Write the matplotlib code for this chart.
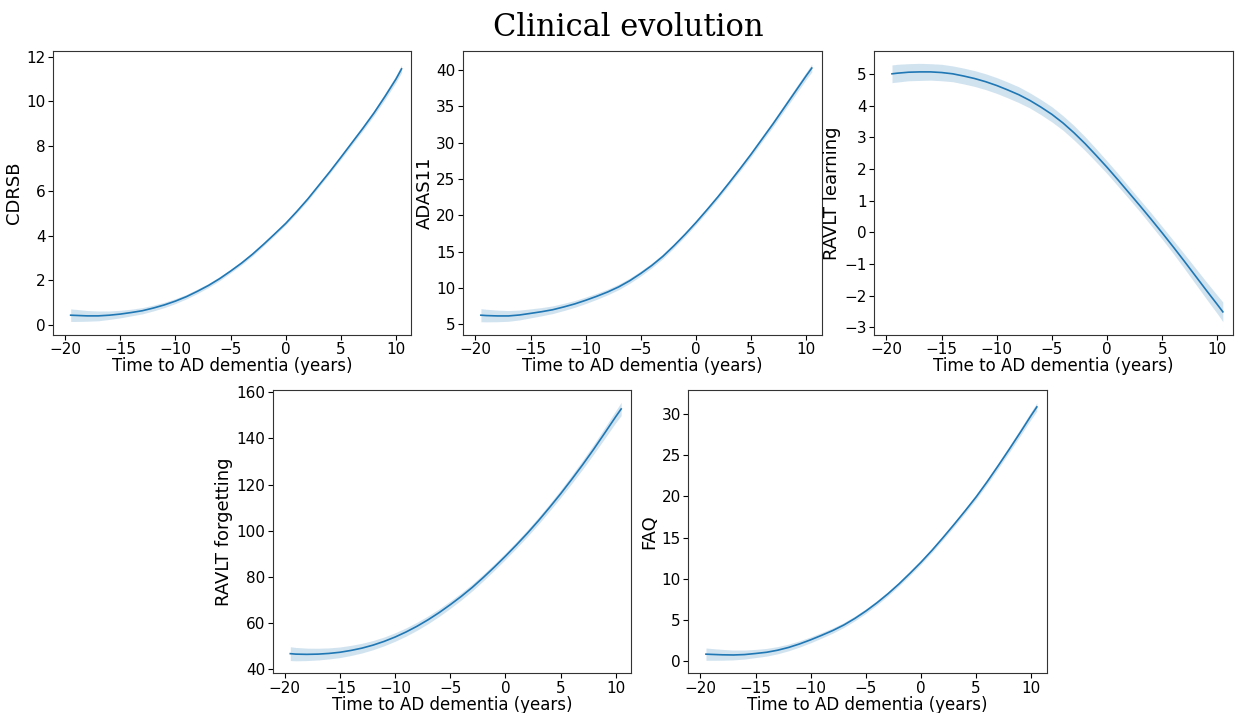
import numpy as np
import matplotlib
matplotlib.use('Agg')
from matplotlib import pyplot as plt

# years relative to AD dementia onset
years = [-19.5, -19, -18, -17, -16, -15, -14, -13, -12, -11,
         -10, -9, -8, -7, -6, -5, -4, -3, -2, -1,
         0, 1, 2, 3, 4, 5, 6, 7, 8, 9,
         10, 10.5]

cdrsb = [0.45, 0.44, 0.42, 0.42, 0.45, 0.5, 0.57, 0.65, 0.77, 0.91,
         1.08, 1.28, 1.52, 1.78, 2.08, 2.42, 2.78, 3.18, 3.62, 4.08,
         4.55, 5.08, 5.64, 6.25, 6.86, 7.5, 8.15, 8.8, 9.48, 10.22,
         11.0, 11.45]
cdrsb_ci = [0.28, 0.27, 0.24, 0.22, 0.19, 0.17, 0.15, 0.14, 0.13, 0.12,
            0.11, 0.10, 0.10, 0.09, 0.09, 0.08, 0.08, 0.08, 0.07, 0.07,
            0.07, 0.07, 0.08, 0.08, 0.08, 0.09, 0.10, 0.11, 0.12, 0.14,
            0.15, 0.17]

adas11 = [6.25, 6.2, 6.15, 6.15, 6.28, 6.5, 6.73, 7.0, 7.38, 7.8,
          8.3, 8.85, 9.45, 10.15, 11.0, 12.0, 13.1, 14.35, 15.8, 17.35,
          19.0, 20.75, 22.55, 24.45, 26.4, 28.4, 30.5, 32.6, 34.8, 37.0,
          39.2, 40.25]
adas11_ci = [0.9, 0.87, 0.8, 0.74, 0.68, 0.62, 0.57, 0.53, 0.5, 0.47,
             0.45, 0.42, 0.4, 0.38, 0.36, 0.35, 0.33, 0.32, 0.31, 0.3,
             0.3, 0.3, 0.3, 0.31, 0.33, 0.35, 0.37, 0.4, 0.43, 0.47,
             0.5, 0.55]

learning = [5.0, 5.02, 5.05, 5.06, 5.06, 5.04, 5.0, 4.93, 4.85, 4.75,
            4.63, 4.49, 4.34, 4.16, 3.95, 3.72, 3.45, 3.14, 2.8, 2.43,
            2.05, 1.65, 1.24, 0.83, 0.41, -0.02, -0.46, -0.91, -1.37, -1.83,
            -2.28, -2.51]
learning_ci = [0.28, 0.28, 0.27, 0.27, 0.26, 0.26, 0.25, 0.25, 0.25, 0.25,
               0.25, 0.25, 0.25, 0.24, 0.24, 0.24, 0.23, 0.23, 0.22, 0.21,
               0.2, 0.2, 0.19, 0.19, 0.2, 0.2, 0.21, 0.23, 0.25, 0.27,
               0.29, 0.31]

forgetting = [46.8, 46.6, 46.5, 46.6, 46.9, 47.4, 48.2, 49.2, 50.5, 52.1,
              54.0, 56.2, 58.7, 61.5, 64.6, 68.0, 71.6, 75.5, 79.8, 84.3,
              89.0, 93.9, 99.0, 104.4, 110.1, 116.0, 122.2, 128.6, 135.3, 142.3,
              149.4, 152.8]
forgetting_ci = [3.0, 2.9, 2.7, 2.55, 2.4, 2.3, 2.2, 2.1, 2.0, 1.9,
                 1.85, 1.8, 1.75, 1.7, 1.65, 1.6, 1.55, 1.5, 1.45, 1.4,
                 1.4, 1.4, 1.45, 1.5, 1.55, 1.65, 1.8, 1.95, 2.1, 2.35,
                 2.6, 2.9]

faq = [0.8, 0.77, 0.72, 0.7, 0.75, 0.88, 1.03, 1.28, 1.62, 2.05,
       2.55, 3.1, 3.68, 4.35, 5.15, 6.05, 7.05, 8.15, 9.35, 10.65,
       12.0, 13.45, 15.0, 16.6, 18.25, 19.95, 21.8, 23.75, 25.75, 27.8,
       29.9, 30.9]
faq_ci = [0.75, 0.72, 0.66, 0.6, 0.55, 0.5, 0.47, 0.44, 0.41, 0.38,
          0.36, 0.34, 0.32, 0.3, 0.29, 0.28, 0.27, 0.26, 0.25, 0.25,
          0.25, 0.25, 0.26, 0.27, 0.28, 0.3, 0.32, 0.35, 0.38, 0.42,
          0.46, 0.5]

names = ['CDRSB', 'ADAS11', 'RAVLT learning', 'RAVLT forgetting', 'FAQ']
curves = [cdrsb, adas11, learning, forgetting, faq]
bands = [cdrsb_ci, adas11_ci, learning_ci, forgetting_ci, faq_ci]
ylims = [(-0.42, 12.25), (3.57, 42.6), (-3.23, 5.72), (38.3, 161), (-1.53, 32.96)]

# left, bottom, width, height of each panel
boxes = [
    [0.0429, 0.5306, 0.29, 0.3979],
    [0.3748, 0.5306, 0.29, 0.3979],
    [0.7074, 0.5306, 0.29, 0.3979],
    [0.2206, 0.0557, 0.29, 0.3973],
    [0.5569, 0.0557, 0.29, 0.3973],
]

fig = plt.figure(figsize=(12.36, 7.13), dpi=100)
fig.text(0.508, 0.962, 'Clinical evolution', ha='center', va='center',
         family='DejaVu Serif', fontsize=22)

t = np.array(years)
for box, name, y, ci, lim in zip(boxes, names, curves, bands, ylims):
    ax = fig.add_axes(box)
    y = np.array(y)
    ci = np.array(ci)
    ax.fill_between(t, y - ci, y + ci, color='#1f77b4', alpha=0.2, lw=0)
    ax.plot(t, y, color='#1f77b4', lw=1.2)
    ax.set_xlim(-21.1, 11.4)
    ax.set_ylim(*lim)
    ax.set_xticks([-20, -15, -10, -5, 0, 5, 10])
    ax.set_xlabel('Time to AD dementia (years)', fontsize=12, labelpad=0)
    ax.set_ylabel(name, fontsize=13, labelpad=2)
    ax.tick_params(labelsize=11, pad=2)
    for s in ax.spines.values():
        s.set_color('#333333')

fig.savefig('out.png', dpi=100)
